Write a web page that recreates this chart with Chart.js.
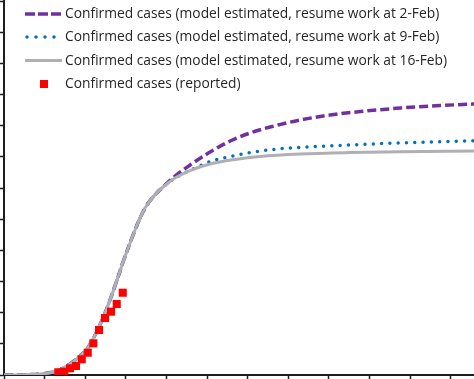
<!DOCTYPE html>
<html>
<head>
<meta charset="utf-8">
<script src="https://cdn.jsdelivr.net/npm/chart.js@4/dist/chart.umd.min.js"></script>
<style>
  html, body { margin: 0; padding: 0; background: #ffffff; overflow: hidden; }
  #wrap { width: 474px; height: 379px; position: relative; }
</style>
</head>
<body>
<div id="wrap"><canvas id="c" width="474" height="379"></canvas></div>
<script>
// ---- data (x = days, y = confirmed cases) ----
const seriesLabels = [
  "Confirmed cases (model estimated, resume work at 2-Feb)",
  "Confirmed cases (model estimated, resume work at 9-Feb)",
  "Confirmed cases (model estimated, resume work at 16-Feb)",
  "Confirmed cases (reported)"
];

const commonDays  = [0, 4.48, 7.07, 9.31, 11.38, 13.28, 14.31, 15.34, 16.38, 17.41, 18.45, 19.48, 20.52, 21.72, 22.93, 24.31, 25.69, 27.41];
const commonCases = [0, 13, 48, 144, 353, 642, 834, 1155, 1540, 1989, 2502, 3048, 3625, 4235, 4812, 5358, 5711, 6032];

const feb2Days  = [29.48, 32.07, 35.52, 38.97, 42.41, 45.86, 51.03, 56.21, 61.38, 68.28, 75.17, 81.03];
const feb2Cases = [6384, 6737, 7154, 7507, 7764, 7956, 8181, 8341, 8453, 8566, 8646, 8694];

const feb9Days  = [29.48, 32.07, 35.52, 39.83, 42.41, 48.10, 53.97, 59.66, 65.34, 71.21, 81.03];
const feb9Cases = [6320, 6561, 6849, 7042, 7138, 7267, 7331, 7379, 7427, 7466, 7514];

const feb16Days  = [29.48, 32.07, 35.52, 39.83, 44.14, 51.03, 59.66, 68.28, 81.03];
const feb16Cases = [6320, 6561, 6769, 6914, 7010, 7090, 7138, 7164, 7186];

const reportedDays  = [9.36, 10.40, 11.38, 12.41, 13.40, 14.43, 15.40, 16.38, 17.41, 18.45, 19.43, 20.47];
const reportedCases = [87, 106, 215, 289, 504, 715, 1017, 1444, 1829, 2031, 2278, 2640];

const xTickStep = 7, xMax = 81;
const yTickStep = 1000, yMax = 12000;

function pts(xs, ys) { return xs.map((x, i) => ({ x: x, y: ys[i] })); }

const purple = '#7030a0', blue = '#0070c0', grey = '#b0b0b4', red = '#ff0000';

// ---- legend drawn inside the plot (reads datasets) ----
const insideLegend = {
  id: 'insideLegend',
  afterDraw(chart) {
    const ctx = chart.ctx;
    const rowsY = [14, 37, 60.5, 84];
    const x0 = 25, x1 = 62, tx = 65;
    ctx.save();
    chart.data.datasets.forEach((ds, i) => {
      const y = rowsY[i];
      if (ds.showLine === false) {
        const s = 8;
        ctx.fillStyle = ds.backgroundColor;
        ctx.fillRect((x0 + x1) / 2 - s / 2 + 0.5, y - s / 2, s, s);
      } else {
        ctx.beginPath();
        ctx.strokeStyle = ds.borderColor;
        ctx.lineWidth = ds.borderWidth;
        ctx.lineCap = ds.legendCap || 'butt';
        ctx.setLineDash(ds.legendDash || []);
        ctx.moveTo(ds.legendCap === 'round' ? x0 + 2 : x0, y);
        ctx.lineTo(x1, y);
        ctx.stroke();
        ctx.setLineDash([]);
      }
      ctx.fillStyle = '#262626';
      ctx.font = '13.8px "Open Sans", sans-serif';
      ctx.textBaseline = 'middle';
      ctx.textAlign = 'left';
      ctx.fillText(ds.label, tx, y + 0.5);
    });
    ctx.restore();
  }
};

new Chart(document.getElementById('c'), {
  type: 'line',
  data: {
    datasets: [
      {
        label: seriesLabels[0],
        data: pts(commonDays.concat(feb2Days), commonCases.concat(feb2Cases)),
        borderColor: purple, borderWidth: 3.5, borderDash: [9, 4],
        legendDash: [10, 3],
        pointRadius: 0, cubicInterpolationMode: 'monotone', fill: false, order: 3
      },
      {
        label: seriesLabels[1],
        data: pts(commonDays.concat(feb9Days), commonCases.concat(feb9Cases)),
        borderColor: blue, borderWidth: 3.5, borderDash: [0, 8.3], borderCapStyle: 'round',
        legendDash: [0, 9], legendCap: 'round',
        pointRadius: 0, cubicInterpolationMode: 'monotone', fill: false, order: 2
      },
      {
        label: seriesLabels[2],
        data: pts(commonDays.concat(feb16Days), commonCases.concat(feb16Cases)),
        borderColor: grey, borderWidth: 3,
        pointRadius: 0, cubicInterpolationMode: 'monotone', fill: false, order: 1
      },
      {
        label: seriesLabels[3],
        data: pts(reportedDays, reportedCases),
        showLine: false, backgroundColor: red, borderColor: red, borderWidth: 0,
        pointStyle: 'rect', pointRadius: 5.7, order: 0
      }
    ]
  },
  options: {
    responsive: false,
    animation: false,
    layout: { autoPadding: false, padding: { top: 1, right: 0, bottom: 0, left: 0 } },
    plugins: { legend: { display: false }, tooltip: { enabled: false } },
    scales: {
      x: {
        type: 'linear', min: 0, max: xMax,
        ticks: { display: false, stepSize: xTickStep, includeBounds: false },
        grid: { drawOnChartArea: false, drawTicks: true, tickLength: 4, tickColor: '#1e1e1e', tickWidth: 1.5 },
        border: { display: true, color: '#1e1e1e', width: 2 }
      },
      y: {
        type: 'linear', min: 0, max: yMax,
        ticks: { display: false, stepSize: yTickStep },
        grid: { drawOnChartArea: false, drawTicks: true, tickLength: 4, tickColor: '#1e1e1e', tickWidth: 1.5 },
        border: { display: true, color: '#1e1e1e', width: 2 }
      }
    }
  },
  plugins: [insideLegend]
});
</script>
</body>
</html>
